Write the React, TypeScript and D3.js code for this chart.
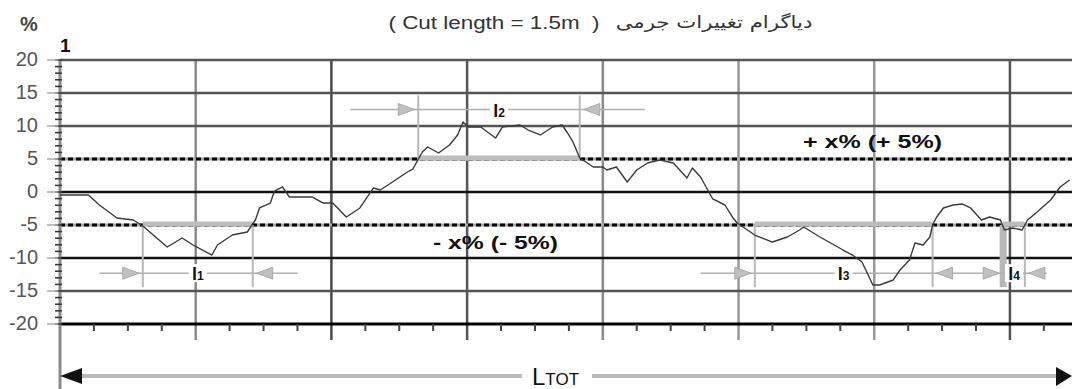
import React from "react";
import * as d3 from "d3";

// Mass-variation profile along the cut (distance in grid units, deviation in %)
const distance = [
  0, 0.21, 0.29, 0.42, 0.54, 0.61, 0.79, 0.9, 0.98, 1.12, 1.16, 1.27, 1.38, 1.44, 1.47, 1.55, 1.58,
  1.64, 1.69, 1.86, 1.94, 2.01, 2.11, 2.21, 2.31, 2.36, 2.45, 2.56, 2.6, 2.67, 2.71, 2.79, 2.87,
  2.93, 2.97, 3.01, 3.1, 3.21, 3.26, 3.39, 3.45, 3.54, 3.63, 3.7, 3.74, 3.78, 3.83, 3.93, 4.0,
  4.03, 4.1, 4.18, 4.25, 4.33, 4.42, 4.52, 4.62, 4.66, 4.72, 4.81, 4.9, 4.96, 4.99, 5.12, 5.25,
  5.36, 5.45, 5.48, 5.6, 5.77, 5.84, 5.91, 5.99, 6.04, 6.14, 6.19, 6.26, 6.3, 6.36, 6.41, 6.43,
  6.46, 6.51, 6.58, 6.65, 6.71, 6.79, 6.85, 6.93, 6.96, 7.02, 7.09, 7.13, 7.2, 7.3, 7.37, 7.44,
];
const deviation = [
  -0.45, -0.45, -1.97, -3.94, -4.24, -5.15, -8.33, -6.97, -8.03, -9.55, -8.03, -6.52, -6.06,
  -4.24, -2.42, -1.67, 0.15, 0.76, -0.76, -0.76, -1.67, -1.67, -3.79, -2.42, 0.61, 0.3, 1.52,
  3.03, 3.48, 6.06, 6.82, 5.91, 7.12, 8.64, 10.61, 9.85, 9.85, 8.18, 9.85, 10.15, 9.39, 8.64,
  9.85, 10.15, 8.94, 7.58, 5.15, 3.79, 3.79, 3.33, 3.79, 1.52, 3.33, 4.39, 4.85, 4.39, 2.12,
  3.64, 2.27, -1.06, -1.97, -3.94, -4.7, -6.52, -7.58, -6.82, -5.76, -5.3, -6.82, -8.79, -9.55,
  -10.61, -14.09, -14.09, -13.33, -11.82, -10.3, -7.73, -8.03, -6.82, -5.0, -3.79, -2.42, -1.97,
  -1.82, -2.42, -4.24, -3.79, -4.24, -5.76, -5.45, -5.76, -4.24, -3.03, -1.21, 0.76, 1.82,
];

const yTicks = [20, 15, 10, 5, 0, -5, -10, -15, -20];
const tolerance = 5;

// Out-of-tolerance stretches l1..l4
const intervalLabels = ["1", "2", "3", "4"];
const intervalStart = [0.61, 2.64, 5.12, 6.95];
const intervalEnd = [1.42, 3.83, 6.43, 7.11];
const intervalSide = [-1, 1, -1, -1];
const arrowFrom = [0.29, 2.14, 4.72, 6.69];
const arrowTo = [1.75, 4.31, 6.69, 7.27];
const arrowLevel = [-12.3, 12.5, -12.3, -12.3];

const titleLatin = "( Cut length = 1.5m  )";
const titlePersian = "دیاگرام تغییرات جرمی";

const W = 1072;
const H = 389;
const FONT = "'Liberation Sans', Arial, sans-serif";

const x = d3.scaleLinear().domain([0, 7.45]).range([60, 1071]);
const y = d3.scaleLinear().domain([-20, 20]).range([324, 60]);

const majorX = d3.range(1, 8);
const minorX = d3.range(0.25, 7.45, 0.25).filter((d) => Math.abs(d - Math.round(d)) > 0.01);
const minorY = d3.range(-20, 21, 1);

const verticalShade = ["#8a8a8a", "#4a4a4a", "#555", "#8a8a8a", "#999", "#999", "#555"];
const startStroke = [2, 2, 2, 7];

const tri = (tipX: number, cy: number, dir: number) =>
  `M${tipX},${cy} L${tipX - 16 * dir},${cy - 6} L${tipX - 16 * dir},${cy + 6} Z`;

export default function App() {
  const line = d3
    .line<number>()
    .x((_, i) => x(distance[i]))
    .y((d) => y(d));

  const lineStyle = (v: number) => {
    if (v === 0 || v === -10) return { stroke: "#111", width: 2.5 };
    if (v === -20) return { stroke: "#000", width: 3 };
    return { stroke: "#555", width: 2.5 };
  };

  return (
    <svg
      width={W}
      height={H}
      style={{ position: "absolute", left: 0, top: 0, background: "#fff" }}
      fontFamily={FONT}
    >
      <rect width={W} height={H} fill="#fff" />

      {/* title: Latin part, then Persian part */}
      <g transform="translate(494,29) scale(1.18,1)">
        <text x={0} y={0} fontSize={19} fill="#333" textAnchor="middle" direction="ltr" style={{ whiteSpace: "pre" }}>
          {titleLatin}
        </text>
      </g>
      <g transform="translate(714,28) scale(1.25,1)">
        <text x={0} y={0} fontSize={17} fill="#333" textAnchor="middle" fontFamily="'DejaVu Sans', sans-serif">
          {titlePersian}
        </text>
      </g>

      {/* axis captions */}
      <text x={20} y={31} fontSize={20} fill="#444" fontWeight="bold">%</text>
      <text x={60} y={52} fontSize={19} fill="#111" fontWeight="bold">1</text>

      {/* vertical grid */}
      {majorX.map((d, i) => (
        <line
          key={`vx${d}`}
          x1={x(d)}
          x2={x(d)}
          y1={y(20)}
          y2={340}
          stroke={verticalShade[i]}
          strokeWidth={2.5}
        />
      ))}

      {/* horizontal grid */}
      {yTicks.map((v) => {
        if (Math.abs(v) === tolerance) {
          return (
            <g key={`h${v}`}>
              <line x1={x(0)} x2={W} y1={y(v)} y2={y(v)} stroke="#a8a8a8" strokeWidth={3} />
              <line
                x1={x(0)}
                x2={W}
                y1={y(v)}
                y2={y(v)}
                stroke="#000"
                strokeWidth={3}
                strokeDasharray="5 3"
              />
            </g>
          );
        }
        const s = lineStyle(v);
        return (
          <line key={`h${v}`} x1={x(0)} x2={W} y1={y(v)} y2={y(v)} stroke={s.stroke} strokeWidth={s.width} />
        );
      })}

      {/* x minor ticks */}
      {minorX.map((d) => (
        <line key={`mx${d}`} x1={x(d)} x2={x(d)} y1={y(-20)} y2={y(-20) + 7} stroke="#444" strokeWidth={2} />
      ))}

      {/* y axis */}
      <line x1={x(0)} x2={x(0)} y1={y(20)} y2={H} stroke="#8a8a8a" strokeWidth={3} />
      {minorY.map((v) => (
        <line key={`my${v}`} x1={55} x2={62} y1={y(v)} y2={y(v)} stroke="#333" strokeWidth={1.5} />
      ))}
      {yTicks.map((v) => (
        <g key={`yt${v}`}>
          <line x1={47} x2={58} y1={y(v)} y2={y(v)} stroke="#aaa" strokeWidth={1.5} />
          <text x={38} y={y(v) + 6} fontSize={20} fill="#555" textAnchor="end">
            {v}
          </text>
        </g>
      ))}

      {/* out-of-tolerance intervals */}
      {intervalLabels.map((lab, i) => {
        const x0 = x(intervalStart[i]);
        const x1 = x(intervalEnd[i]);
        const band = y(tolerance * intervalSide[i]);
        const row = y(arrowLevel[i]);
        const reach = row + 14 * (intervalSide[i] > 0 ? -1 : 1);
        return (
          <g key={`iv${lab}`}>
            <line x1={x0} x2={x0} y1={band} y2={reach} stroke="#b8b8b8" strokeWidth={startStroke[i]} />
            <line x1={x1} x2={x1} y1={band} y2={reach} stroke="#b8b8b8" strokeWidth={2} />
            <line x1={x0} x2={x1} y1={band - 1} y2={band - 1} stroke="#bdbdbd" strokeWidth={5} />
          </g>
        );
      })}

      {/* interval arrows */}
      {intervalLabels.map((lab, i) => {
        const row = y(arrowLevel[i]);
        const x0 = x(intervalStart[i]);
        const x1 = x(intervalEnd[i]);
        const mid = (x0 + x1) / 2;
        return (
          <g key={`ar${lab}`}>
            <line x1={x(arrowFrom[i])} x2={x(arrowTo[i])} y1={row} y2={row} stroke="#b0b0b0" strokeWidth={1.5} />
            <path d={tri(x0 - 4, row, 1)} fill="#c0c0c0" stroke="#aaa" strokeWidth={1} />
            <path d={tri(x1 + 4, row, -1)} fill="#c0c0c0" stroke="#aaa" strokeWidth={1} />
            <rect x={mid - 9} y={row - 9} width={18} height={18} fill="#fff" />
            <text x={mid} y={row + 7} textAnchor="middle" fill="#111" fontWeight="bold">
              <tspan fontSize={18}>l</tspan>
              <tspan fontSize={12}>{lab}</tspan>
            </text>
          </g>
        );
      })}

      {/* tolerance captions */}
      <text x={803} y={y(tolerance) - 11} fontSize={19} fontWeight="bold" fill="#111" textLength={139} lengthAdjust="spacingAndGlyphs">
        + x% (+ 5%)
      </text>
      <text x={433} y={y(-tolerance) + 24} fontSize={19} fontWeight="bold" fill="#111" textLength={125} lengthAdjust="spacingAndGlyphs">
        - x% (- 5%)
      </text>

      {/* profile */}
      <path d={line(deviation) ?? ""} fill="none" stroke="#3a3a3a" strokeWidth={1.4} strokeLinejoin="round" />

      {/* total length */}
      <line x1={x(0) + 10} x2={W - 10} y1={376} y2={376} stroke="#bbb" strokeWidth={4} />
      <path d={`M${x(0)},376 L${x(0) + 22},368 L${x(0) + 22},384 Z`} fill="#111" />
      <path d={`M${W},376 L${W - 16},367 L${W - 16},386 Z`} fill="#111" />
      <rect x={522} y={362} width={70} height={27} fill="#fff" />
      <text x={532} y={385} fill="#111">
        <tspan fontSize={24}>L</tspan>
        <tspan fontSize={17}>TOT</tspan>
      </text>
    </svg>
  );
}
